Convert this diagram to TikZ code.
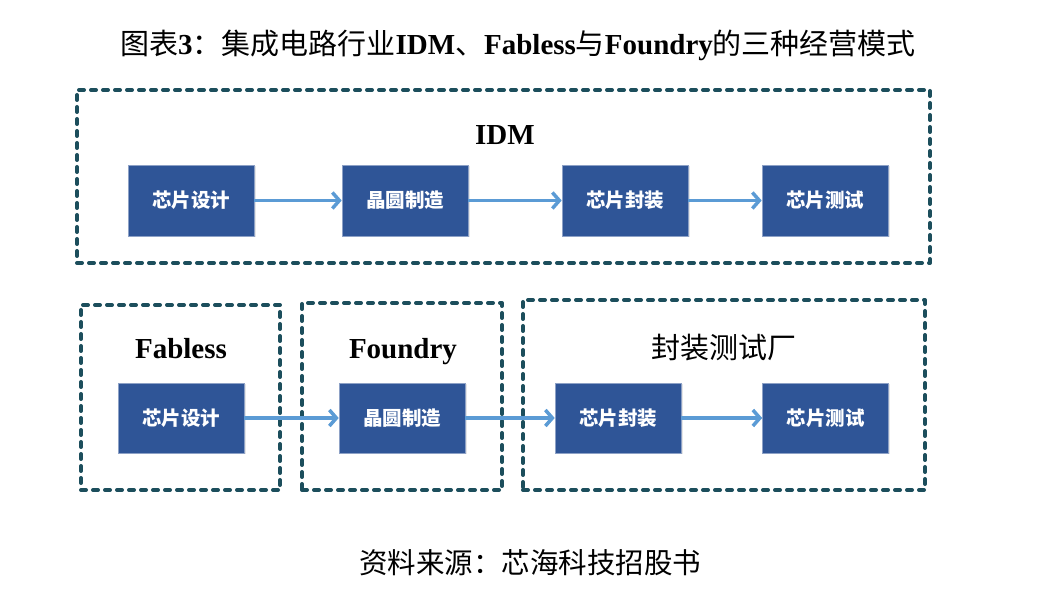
\documentclass[tikz,border=0pt]{standalone}
\usepackage{fontspec}
\setmainfont{Liberation Serif}
\newfontfamily\cjk{Noto Sans CJK SC}
\usetikzlibrary{arrows.meta,shadows}
\definecolor{boxblue}{HTML}{2F5597}
\definecolor{arrowblue}{HTML}{5B9BD5}
\definecolor{dashteal}{HTML}{1C4E5C}
\newcommand{\lat}[1]{{\rmfamily\bfseries #1}}
\begin{document}
\begin{tikzpicture}[x=1pt,y=-1pt,
  stepbox/.style={draw=boxblue!55!white, line width=0.6pt, fill=boxblue, text=white,
    minimum width=126pt, minimum height=71pt, inner sep=0pt,
    font=\cjk\bfseries\fontsize{19.5}{22}\selectfont,
    drop shadow={shadow xshift=1.5pt, shadow yshift=-1.5pt, opacity=0.2}},
  group/.style={draw=dashteal, line width=4pt, dash pattern=on 5pt off 7pt,
    line cap=round, line join=round, inner sep=0pt},
  flow/.style={draw=arrowblue, line width=3.5pt, -{Straight Barb[length=7pt,width=16pt]}},
  grouplabel/.style={font=\rmfamily\bfseries\fontsize{29}{32}\selectfont, inner sep=0pt, anchor=base},
]
\useasboundingbox (0,0) rectangle (1037,593);
\fill[white] (0,0) rectangle (1037,593);

% title
\node[inner sep=0pt, font=\fontsize{29}{32}\selectfont] (title) at (518,45)
  {\cjk 图表\lat{3}：集成电路行业\lat{IDM}、\lat{Fabless}与\lat{Foundry}的三种经营模式};

% group frames
\node[group, minimum width=853pt, minimum height=173pt] (gidm) at (503.5,176.5) {};
\node[group, minimum width=199pt, minimum height=185pt] (gfab) at (180.5,397.5) {};
\node[group, minimum width=200pt, minimum height=187pt] (gfou) at (402,396.5) {};
\node[group, minimum width=402pt, minimum height=190pt] (gpkg) at (724,395) {};

% group labels
\node[grouplabel] (lidm) at (505,145) {IDM};
\node[grouplabel] (lfab) at (181,359) {Fabless};
\node[grouplabel] (lfou) at (403,359) {Foundry};
\node[inner sep=0pt, font=\cjk\fontsize{29}{32}\selectfont] (lpkg) at (724,348) {封装测试厂};

% IDM row
\node[stepbox] (a1) at (191,200.5) {芯片设计};
\node[stepbox] (a2) at (405,200.5) {晶圆制造};
\node[stepbox] (a3) at (625,200.5) {芯片封装};
\node[stepbox] (a4) at (825,200.5) {芯片测试};

% bottom row
\node[stepbox, minimum height=70pt] (b1) at (181,418) {芯片设计};
\node[stepbox, minimum height=70pt] (b2) at (402,418) {晶圆制造};
\node[stepbox, minimum height=70pt] (b3) at (618,418) {芯片封装};
\node[stepbox, minimum height=70pt] (b4) at (825.5,418) {芯片测试};

% arrows
\draw[flow] (a1) -- (a2);
\draw[flow] (a2) -- (a3);
\draw[flow] (a3) -- (a4);
\draw[flow] (b1) -- (b2);
\draw[flow] (b2) -- (b3);
\draw[flow] (b3) -- (b4);

% source
\node[inner sep=0pt, font=\cjk\fontsize{28.5}{32}\selectfont] (src) at (530,563) {资料来源：芯海科技招股书};
\end{tikzpicture}
\end{document}
